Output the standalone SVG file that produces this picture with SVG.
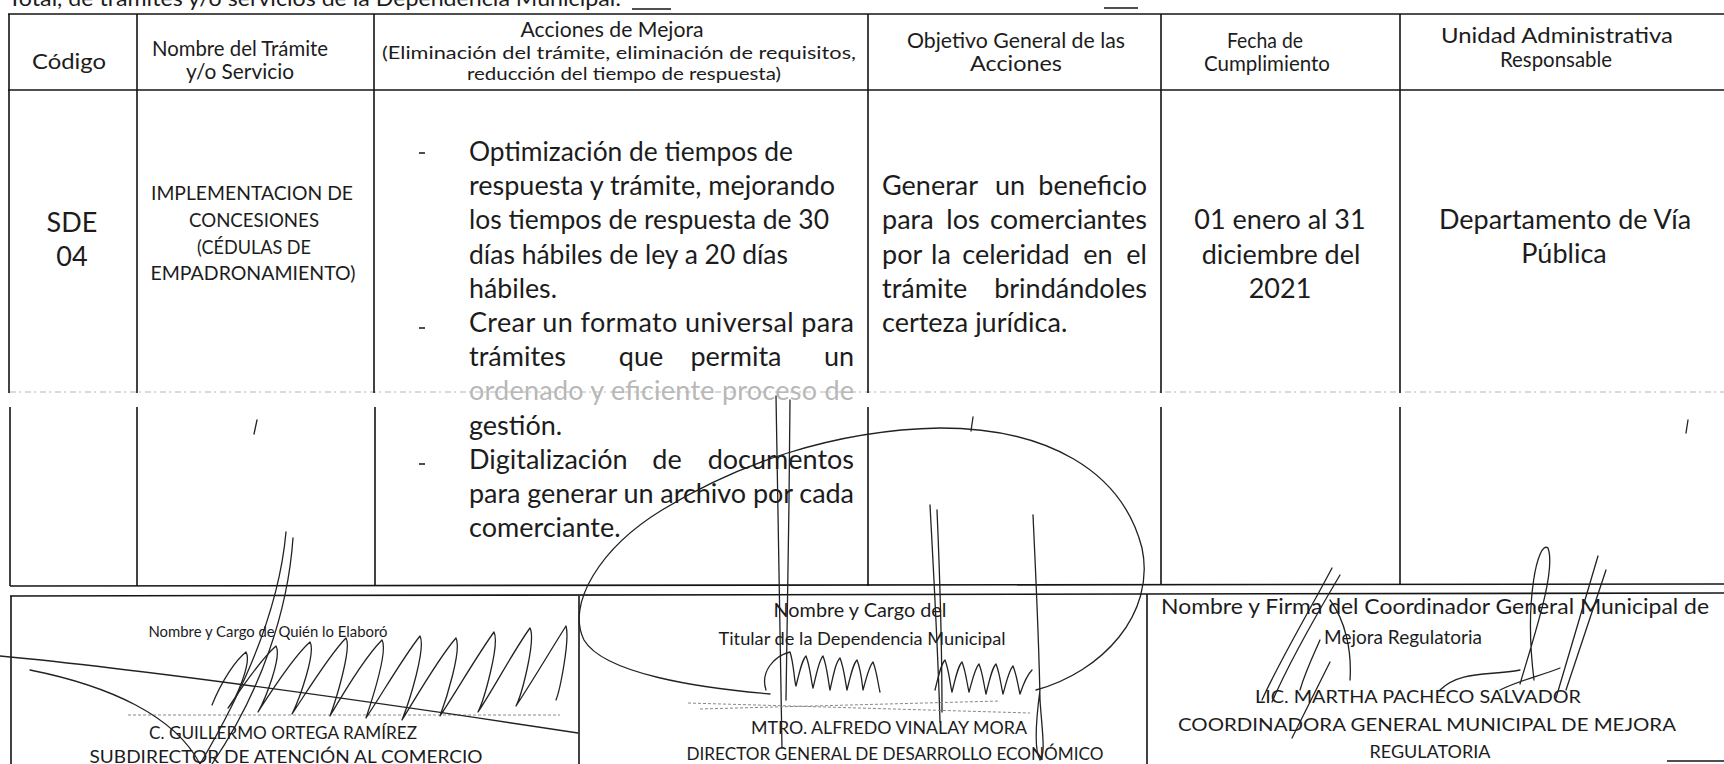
<svg xmlns="http://www.w3.org/2000/svg" width="1724" height="764" viewBox="0 0 1724 764">
<style>
.t{font-family:Lato,"Liberation Sans",sans-serif;fill:#1c1c1c}
.h{font-size:21px}
.p{font-size:18px}
.b{font-size:27px}
.s{font-size:19px}
.c{font-size:18px}
.m{text-anchor:middle}
.e{text-anchor:end}
.ln{stroke:#151515;stroke-width:1.6;fill:none}
.lf{stroke:#b5b5b5;stroke-width:1;fill:none;stroke-dasharray:6 3 2 4}
.sg{stroke:#222;stroke-width:1.3;fill:none;stroke-linecap:round;stroke-linejoin:round}
.sl{stroke:#888;stroke-width:1;fill:none;stroke-dasharray:3 2}
</style>
<rect width="1724" height="764" fill="#fff"/>

<g id="top-caption">
<text class="t" x="8" y="6" font-size="22" textLength="613" lengthAdjust="spacingAndGlyphs">Total, de trámites y/o servicios de la Dependencia Municipal:</text>
<line x1="632" y1="9" x2="671" y2="9" class="ln" stroke-width="1.2"/>
<line x1="1104" y1="8" x2="1138" y2="8" class="ln" stroke-width="2.5"/>
</g>

<g id="table-grid">
<line class="ln" x1="8" y1="14" x2="1724" y2="14"/>
<line class="ln" x1="8" y1="90" x2="1724" y2="90"/>
<line class="ln" x1="10" y1="586" x2="1724" y2="584"/>
<line class="lf" x1="10" y1="392" x2="1724" y2="392"/>
<path class="ln" d="M9 14V393M10 407V586M137 14V393M137 407V586M374 14V393M375 407V586M868 14V393M868 407V586M1161 14V393M1161 407V585M1400 14V393M1400 407V584"/>
</g>

<g id="header-codigo"><text class="t h m" x="69" y="69" textLength="74" lengthAdjust="spacingAndGlyphs">Código</text></g>
<g id="header-nombre">
<text class="t h m" x="240" y="56" textLength="176" lengthAdjust="spacingAndGlyphs">Nombre del Trámite</text>
<text class="t h m" x="240" y="79" textLength="108" lengthAdjust="spacingAndGlyphs">y/o Servicio</text>
</g>
<g id="header-acciones">
<text class="t h m" x="612" y="37" textLength="183" lengthAdjust="spacingAndGlyphs">Acciones de Mejora</text>
<text class="t p m" x="619" y="59" textLength="474" lengthAdjust="spacingAndGlyphs">(Eliminación del trámite, eliminación de requisitos,</text>
<text class="t p m" x="624" y="80" textLength="314" lengthAdjust="spacingAndGlyphs">reducción del tiempo de respuesta)</text>
</g>
<g id="header-objetivo">
<text class="t h m" x="1016" y="48" textLength="218" lengthAdjust="spacingAndGlyphs">Objetivo General de las</text>
<text class="t h m" x="1016" y="71" textLength="92" lengthAdjust="spacingAndGlyphs">Acciones</text>
</g>
<g id="header-fecha">
<text class="t h m" x="1265" y="48" textLength="76" lengthAdjust="spacingAndGlyphs">Fecha de</text>
<text class="t h m" x="1267" y="71" textLength="126" lengthAdjust="spacingAndGlyphs">Cumplimiento</text>
</g>
<g id="header-unidad">
<text class="t h m" x="1557" y="43" textLength="232" lengthAdjust="spacingAndGlyphs">Unidad Administrativa</text>
<text class="t h m" x="1556" y="67" textLength="112" lengthAdjust="spacingAndGlyphs">Responsable</text>
</g>

<g id="cell-codigo">
<text class="t b m" x="72" y="232" font-size="25">SDE</text>
<text class="t b m" x="72" y="266" font-size="25">04</text>
</g>
<g id="cell-nombre">
<text class="t s m" x="252" y="200" textLength="202" lengthAdjust="spacingAndGlyphs">IMPLEMENTACION DE</text>
<text class="t s m" x="254" y="227" textLength="130" lengthAdjust="spacingAndGlyphs">CONCESIONES</text>
<text class="t s m" x="254" y="254" textLength="114" lengthAdjust="spacingAndGlyphs">(CÉDULAS DE</text>
<text class="t s m" x="253" y="280" textLength="205" lengthAdjust="spacingAndGlyphs">EMPADRONAMIENTO)</text>
</g>
<g id="cell-acciones">
<path class="ln" stroke-width="1.4" d="M419 153h6M419 328h6M419 464h6"/>
<text class="t b" x="469" y="161" textLength="324" lengthAdjust="spacingAndGlyphs">Optimización de tiempos de</text>
<text class="t b" x="469" y="195" textLength="366" lengthAdjust="spacingAndGlyphs">respuesta y trámite, mejorando</text>
<text class="t b" x="469" y="229" textLength="360" lengthAdjust="spacingAndGlyphs">los tiempos de respuesta de 30</text>
<text class="t b" x="469" y="264" textLength="319" lengthAdjust="spacingAndGlyphs">días hábiles de ley a 20 días</text>
<text class="t b" x="469" y="298" textLength="88" lengthAdjust="spacingAndGlyphs">hábiles.</text>
<text class="t b" x="469" y="332" textLength="385" lengthAdjust="spacing">Crear un formato universal para</text>
<text class="t b" x="469" y="366">trámites</text>
<text class="t b m" x="641" y="366">que</text>
<text class="t b m" x="736" y="366">permita</text>
<text class="t b e" x="854" y="366">un</text>
<text class="t b" x="469" y="400" textLength="385" lengthAdjust="spacing" style="fill:#b8b8b8">ordenado y eficiente proceso de</text>
<text class="t b" x="469" y="435">gestión.</text>
<text class="t b" x="469" y="469">Digitalización</text>
<text class="t b m" x="667" y="469">de</text>
<text class="t b e" x="854" y="469">documentos</text>
<text class="t b" x="469" y="503" textLength="385" lengthAdjust="spacing">para generar un archivo por cada</text>
<text class="t b" x="469" y="537">comerciante.</text>
</g>
<g id="cell-objetivo">
<text class="t b" x="882" y="195">Generar</text>
<text class="t b m" x="1010" y="195">un</text>
<text class="t b e" x="1147" y="195">beneficio</text>
<text class="t b" x="882" y="229">para</text>
<text class="t b m" x="963" y="229">los</text>
<text class="t b e" x="1147" y="229">comerciantes</text>
<text class="t b" x="882" y="264">por</text>
<text class="t b m" x="941" y="264">la</text>
<text class="t b m" x="1016" y="264">celeridad</text>
<text class="t b m" x="1098" y="264">en</text>
<text class="t b e" x="1147" y="264">el</text>
<text class="t b" x="882" y="298">trámite</text>
<text class="t b e" x="1147" y="298">brindándoles</text>
<text class="t b" x="882" y="332">certeza jurídica.</text>
</g>
<g id="cell-fecha">
<text class="t b m" x="1280" y="229">01 enero al 31</text>
<text class="t b m" x="1281" y="264">diciembre del</text>
<text class="t b m" x="1280" y="298">2021</text>
</g>
<g id="cell-unidad">
<text class="t b m" x="1565" y="229">Departamento de Vía</text>
<text class="t b m" x="1564" y="263">Pública</text>
</g>

<g id="signature-grid">
<line class="ln" x1="10" y1="596" x2="1724" y2="593"/>
<path class="ln" d="M11 596V764M579 596V764M1147 594V764"/>
<line class="ln" x1="1667" y1="761" x2="1724" y2="761" stroke-width="1.2"/>
</g>

<g id="sign-elaboro">
<text class="t m" font-size="16" x="268" y="637" textLength="239" lengthAdjust="spacingAndGlyphs">Nombre y Cargo de Quién lo Elaboró</text>
<line class="sl" x1="128" y1="715" x2="560" y2="715"/>
<text class="t c m" x="283" y="739" textLength="268" lengthAdjust="spacingAndGlyphs">C. GUILLERMO ORTEGA RAMÍREZ</text>
<text class="t c m" x="286" y="763" textLength="393" lengthAdjust="spacingAndGlyphs">SUBDIRECTOR DE ATENCIÓN AL COMERCIO</text>
</g>
<g id="sign-titular">
<text class="t s m" x="860" y="617" textLength="173" lengthAdjust="spacingAndGlyphs">Nombre y Cargo del</text>
<text class="t m" font-size="18" x="862" y="645" textLength="287" lengthAdjust="spacingAndGlyphs">Titular de la Dependencia Municipal</text>
<text class="t c m" x="889" y="734" textLength="276" lengthAdjust="spacingAndGlyphs">MTRO. ALFREDO VINALAY MORA</text>
<text class="t c m" x="895" y="760" textLength="417" lengthAdjust="spacingAndGlyphs">DIRECTOR GENERAL DE DESARROLLO ECONÓMICO</text>
</g>
<g id="sign-coordinador">
<text class="t m" font-size="21" x="1435" y="614" textLength="548" lengthAdjust="spacingAndGlyphs">Nombre y Firma del Coordinador General Municipal de</text>
<text class="t s m" x="1403" y="644">Mejora Regulatoria</text>
<text class="t c m" x="1418" y="703" textLength="326" lengthAdjust="spacingAndGlyphs">LIC. MARTHA PACHECO SALVADOR</text>
<text class="t c m" x="1427" y="731" textLength="498" lengthAdjust="spacingAndGlyphs">COORDINADORA GENERAL MUNICIPAL DE MEJORA</text>
<text class="t c m" x="1430" y="758">REGULATORIA</text>
</g>

<g id="handwriting">
<path class="sg" d="M257 420l-3 14M973 417l-2 14M1688 420l-2 13"/>
<path class="sg" d="M0 656C150 670 400 706 578 733"/>
<path class="sg" d="M286 532C280 600 250 680 200 764M293 538C288 610 262 690 212 764"/>
<path class="sg" d="M30 670C110 686 175 716 200 764"/>
<path class="sg" d="M212 705C222 680 236 660 246 652C252 662 236 700 228 708C240 690 260 660 276 646C282 656 266 698 258 712C272 690 294 656 310 642C316 652 300 698 292 714C308 690 330 654 346 638C352 648 336 700 330 716C344 692 366 656 382 640C388 650 372 700 366 718C382 694 404 656 420 636C426 648 410 700 402 720C418 694 440 656 456 638C462 650 446 700 440 716C456 692 478 654 494 632C500 644 484 700 478 712C494 688 514 650 530 628C536 640 522 694 516 706C532 682 552 648 566 626C570 640 560 690 556 700"/>
<path class="sg" d="M770 694C700 688 604 674 584 640C566 604 600 548 662 510C734 466 830 430 940 428C1046 428 1122 470 1142 548C1156 614 1102 672 1036 690"/>
<path class="sg" d="M776 396C778 500 780 620 782 748M790 400C789 500 788 620 786 700M930 505C934 580 938 650 940 722M937 510C940 580 942 650 942 712M1033 515C1036 580 1039 640 1040 700C1042 730 1046 755 1040 760C1034 750 1036 720 1040 690"/>
<path class="sg" d="M766 690C760 672 774 656 790 652C794 664 794 680 796 686C800 670 802 660 806 656C810 666 811 680 813 688C817 672 819 660 823 656C827 666 828 680 830 690C834 672 836 662 840 658C844 668 845 680 847 690C851 674 853 664 857 660C861 670 862 682 863 690C867 676 869 666 873 662C877 672 878 684 880 692M935 690C939 674 941 664 945 660C949 670 950 684 952 692C956 676 958 666 962 662C966 672 967 684 969 692C973 678 975 668 979 664C983 674 984 686 986 694C990 678 992 668 996 664C1000 674 1001 686 1003 694C1007 680 1009 670 1013 666C1017 676 1018 686 1020 694C1024 682 1028 674 1032 670"/>
<path class="sl" d="M688 703L1030 713M700 709L1000 701"/>
<path class="sg" d="M1262 700C1280 660 1310 610 1332 568M1272 702C1290 660 1318 612 1340 575M1300 690C1306 670 1314 654 1320 640M1292 738L1330 662M1330 600C1345 620 1352 650 1350 680"/>
<path class="sg" d="M1520 684C1536 630 1556 570 1548 548C1538 540 1524 600 1534 680M1556 698L1598 556M1566 690L1606 570M1440 690C1460 670 1490 676 1520 670M1500 690C1520 680 1540 676 1560 668"/>
</g>
</svg>
